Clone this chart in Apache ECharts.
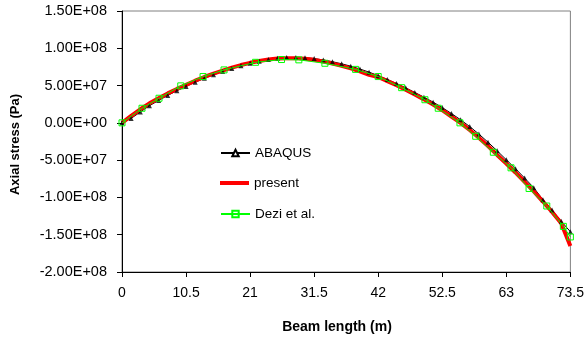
<!DOCTYPE html>
<html>
<head>
<meta charset="utf-8">
<script src="https://cdn.jsdelivr.net/npm/echarts@6/dist/echarts.min.js"></script>
<style>
html,body{margin:0;padding:0;background:#fff;}
#c{width:587px;height:339px;}
</style>
</head>
<body>
<div id="c"></div>
<script>
// ---- data ----
const abaqusX = [0,1.5,3,4.5,6,7.5,9,10.5,12,13.5,15,16.5,18,19.5,21,22.5,24,25.5,27,28.5,30,31.5,33,34.5,36,37.5,39,40.5,42,43.5,45,46.5,48,49.5,51,52.5,54,55.5,57,58.5,60,61.5,63,64.5,66,67.5,69,70.5,72,73.5];
const abaqusY = [0,0.6e7,1.45e7,2.3e7,3.0e7,3.68e7,4.3e7,4.88e7,5.45e7,5.97e7,6.45e7,6.88e7,7.3e7,7.66e7,7.98e7,8.26e7,8.5e7,8.66e7,8.75e7,8.78e7,8.74e7,8.62e7,8.43e7,8.2e7,7.92e7,7.6e7,7.22e7,6.8e7,6.33e7,5.82e7,5.28e7,4.7e7,4.08e7,3.45e7,2.78e7,2.05e7,1.25e7,0.42e7,-0.5e7,-1.5e7,-2.6e7,-3.75e7,-4.95e7,-6.15e7,-7.4e7,-8.7e7,-10.3e7,-11.7e7,-13.2e7,-14.6e7];

const presentX = [0,1.5,3,4.5,6,7.5,9,10.5,12,13.5,15,16.5,18,19.5,21,22.5,24,25.5,27,28.5,30,31.5,33,34.5,36,37.5,39,40.5,42,43.5,45,46.5,48,49.5,51,52.5,54,55.5,57,58.5,60,61.5,63,64.5,66,67.5,69,70.5,72,73.5];
const presentY = [0,0.95e7,1.82e7,2.62e7,3.3e7,3.95e7,4.55e7,5.1e7,5.65e7,6.15e7,6.6e7,7.0e7,7.4e7,7.75e7,8.05e7,8.3e7,8.5e7,8.62e7,8.68e7,8.68e7,8.6e7,8.45e7,8.22e7,7.95e7,7.65e7,7.3e7,6.9e7,6.45e7,6.15e7,5.6e7,5.05e7,4.45e7,3.8e7,3.15e7,2.45e7,1.7e7,0.85e7,0,-0.95e7,-2.0e7,-3.1e7,-4.3e7,-5.45e7,-6.65e7,-7.9e7,-9.2e7,-10.55e7,-11.95e7,-13.45e7,-16.5e7];

const deziX = [0,3.28,6.07,9.63,13.29,16.73,21.89,26.15,28.99,33.26,38.29,42.0,45.84,49.66,51.84,55.4,57.98,60.87,63.77,66.73,69.63,72.35,73.5];
const deziY = [0,1.96e7,3.3e7,4.96e7,6.21e7,7.1e7,8.12e7,8.49e7,8.45e7,7.99e7,7.17e7,6.21e7,4.72e7,3.1e7,1.96e7,0,-1.8e7,-3.94e7,-6.03e7,-8.8e7,-11.15e7,-13.88e7,-15.3e7];

const xTicks = {min: 0, max: 73.5, interval: 10.5};
const yTicks = {min: -2e8, max: 1.5e8, interval: 5e7};
const seriesNames = ['ABAQUS', 'present', 'Dezi et al.'];
const xTitle = 'Beam length (m)';
const yTitle = 'Axial stress (Pa)';

function pair(xs, ys){ return xs.map((x,i)=>[x, ys[i]]); }
function sci(v){
  if (Math.abs(v) < 1e-9) return '0.00E+00';
  const s = v < 0 ? '-' : '';
  const a = Math.abs(v);
  let e = Math.floor(Math.log10(a) + 1e-9);
  let m = a / Math.pow(10, e);
  return s + m.toFixed(2) + 'E+' + (e < 10 ? '0' + e : e);
}

const FONT = '"Liberation Sans", Arial, sans-serif';
const legendText = {color: '#000', fontSize: 13.5, fontFamily: FONT};
function leg(name, cy, h, extra){
  return Object.assign({
    orient: 'vertical', left: 220, top: cy - 7, padding: 0,
    itemWidth: 29, itemHeight: h, textStyle: legendText,
    data: [name]
  }, extra || {});
}

const chart = echarts.init(document.getElementById('c'), null, {renderer: 'canvas'});
chart.setOption({
  animation: false,
  backgroundColor: '#fff',
  grid: {left: 122, top: 11, right: 16, bottom: 67, show: true, borderColor: '#808080', borderWidth: 1, backgroundColor: 'transparent'},
  xAxis: {
    type: 'value', min: xTicks.min, max: xTicks.max, interval: xTicks.interval,
    axisLine: {show: true, onZero: false, lineStyle: {color: '#000', width: 1}},
    axisTick: {show: true, inside: false, length: 5, lineStyle: {color: '#000'}},
    splitLine: {show: false},
    axisLabel: {margin: 14, color: '#000', fontSize: 14, fontFamily: FONT}
  },
  yAxis: {
    type: 'value', min: yTicks.min, max: yTicks.max, interval: yTicks.interval,
    axisLine: {show: true, onZero: false, lineStyle: {color: '#000', width: 1}},
    axisTick: {show: true, inside: false, length: 5, lineStyle: {color: '#000'}},
    splitLine: {show: false},
    axisLabel: {margin: 15, color: '#000', fontSize: 14.5, fontFamily: FONT, formatter: sci}
  },
  legend: [
    leg(seriesNames[0], 153, 8),
    leg(seriesNames[1], 183, 4, {data: [{name: seriesNames[1], icon: 'rect'}]}),
    leg(seriesNames[2], 214, 8)
  ],
  graphic: [
    {type: 'text', position: [337, 327], style: {text: xTitle, font: 'bold 14px ' + FONT, fill: '#000', textAlign: 'center', textVerticalAlign: 'middle'}},
    {type: 'text', rotation: Math.PI / 2, position: [15.5, 144.5], style: {text: yTitle, font: 'bold 13px ' + FONT, fill: '#000', textAlign: 'center', textVerticalAlign: 'middle'}}
  ],
  series: [
    {
      name: seriesNames[0], type: 'line', data: pair(abaqusX, abaqusY),
      symbol: 'emptyTriangle', symbolSize: 6, showSymbol: false,
      lineStyle: {color: '#000', width: 1},
      itemStyle: {color: '#000', borderColor: '#000', borderWidth: 1.5},
      z: 1
    },
    {
      name: seriesNames[1], type: 'line', data: pair(presentX, presentY),
      symbol: 'none', showSymbol: false,
      lineStyle: {color: '#ff0000', width: 4},
      itemStyle: {color: '#ff0000'},
      z: 2
    },
    {
      name: seriesNames[0], type: 'scatter', data: pair(abaqusX, abaqusY),
      symbol: 'triangle', symbolSize: 5,
      itemStyle: {color: '#000'},
      z: 3
    },
    {
      name: seriesNames[2], type: 'line', data: pair(deziX, deziY),
      symbol: 'rect', symbolSize: 6, showAllSymbol: true,
      lineStyle: {color: '#00ff00', width: 1},
      itemStyle: {color: 'rgba(255,255,255,0)', borderColor: '#00ff00', borderWidth: 1},
      z: 4
    }
  ]
});
</script>
</body>
</html>
